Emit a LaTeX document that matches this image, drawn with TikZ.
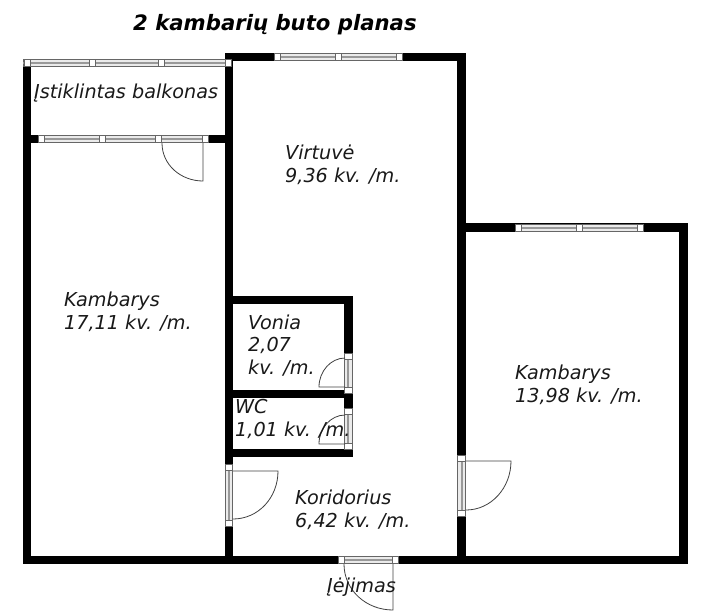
\documentclass[tikz,border=0pt]{standalone}
\usepackage{fontspec}
\setmainfont{DejaVu Sans}
\tikzset{
  wall/.style={fill=black,draw=none},
  sash/.style={fill=black!8,draw=black!60,line width=1pt},
  glass/.style={fill=black!40,draw=none},
  post/.style={fill=white,draw=black!60,line width=0.8pt},
  leaf/.style={draw=black!75,line width=0.8pt},
  lbl/.style={font=\fontsize{19.2}{22.5}\selectfont\itshape,anchor=base west,align=left,inner sep=0pt,text=black!90},
  ttl/.style={font=\fontsize{21.2}{25}\selectfont\bfseries\itshape,anchor=base west,inner sep=0pt},
}
% horizontal window: x1,x2,ytop,ybottom,list of post centres
\newcommand{\hwin}[5]{%
  \fill[white] (#1,#3) rectangle (#2,#4);
  \path[sash] (#1,#3+.5) rectangle (#2,#4-.5);
  \path[glass] (#1,{(#3+#4)/2-1}) rectangle (#2,{(#3+#4)/2+1});
  \foreach \p in {#5}{\path[post] (\p-3,#3+.5) rectangle (\p+3,#4-.5);}
}
% vertical window: y1,y2,xleft,xright,list of post centres
\newcommand{\vwin}[5]{%
  \fill[white] (#3,#1) rectangle (#4,#2);
  \path[sash] (#3+.5,#1) rectangle (#4-.5,#2);
  \path[glass] ({(#3+#4)/2-1},#1) rectangle ({(#3+#4)/2+1},#2);
  \foreach \p in {#5}{\path[post] (#3+.5,\p-3) rectangle (#4-.5,\p+3);}
}
\begin{document}
\begin{tikzpicture}[x=1pt,y=-1pt]
\useasboundingbox (0,0) rectangle (706,611);
% walls
\path[wall] (23,60) rectangle (31,564);
\path[wall] (225,53) rectangle (233,564);
\path[wall] (225,53) rectangle (466,61);
\path[wall] (457,53) rectangle (466,564);
\path[wall] (23,135) rectangle (225,143);
\path[wall] (457,223) rectangle (688,232);
\path[wall] (679,223) rectangle (688,564);
\path[wall] (23,556) rectangle (688,564);
\path[wall] (233,296) rectangle (353,304);
\path[wall] (344,296) rectangle (353,457);
\path[wall] (233,390) rectangle (353,398);
\path[wall] (233,449) rectangle (353,457);
% windows
\hwin{23}{230}{59}{67}{27,92,161,228}
\hwin{274}{402}{53}{61}{277,338,399}
\hwin{38}{208}{135}{143}{41,102,158,205}
\hwin{515}{643}{224}{232}{518,579,640}
% door openings
\hwin{338}{398}{556}{564}{341,395}
\vwin{353}{393}{344}{352.5}{356,390}
\vwin{408}{449}{344}{352.5}{411,446}
\vwin{464}{526}{225}{233}{467,523}
\vwin{455}{516}{457}{466}{458,513}
% door leaves
\draw[leaf] (203,143) -- (203,181) .. controls (181,181) and (162,165) .. (162,143);
\draw[leaf] (345,387) -- (319,387) .. controls (319,371) and (331,358) .. (345,358);
\draw[leaf] (345,444) -- (319,444) .. controls (319,428) and (331,415) .. (345,415);
\draw[leaf] (233,471) -- (278,471) .. controls (278,498) and (258,519) .. (233,519);
\draw[leaf] (466,461) -- (511,461) .. controls (511,488) and (491,510) .. (466,510);
\draw[leaf] (393,564) -- (393,610) .. controls (366,610) and (344,590) .. (344,564);
% labels
\node[ttl] (title) at (133,30) {2 kambarių buto planas};
\node[lbl] (balkonas) at (34,98) {Įstiklintas balkonas};
\node[lbl] (virtuve) at (285,182) {Virtuvė\\9,36 kv. /m.};
\node[lbl] (kamb1) at (64,329) {Kambarys\\17,11 kv. /m.};
\node[lbl] (vonia) at (248,374) {Vonia\\2,07\\kv. /m.};
\node[lbl] (wc) at (235,436) {WC\\1,01 kv. /m.};
\node[lbl] (kamb2) at (515,402) {Kambarys\\13,98 kv. /m.};
\node[lbl] (koridorius) at (295,527) {Koridorius\\6,42 kv. /m.};
\node[lbl] (iejimas) at (327,592) {Įėjimas};
\end{tikzpicture}
\end{document}
